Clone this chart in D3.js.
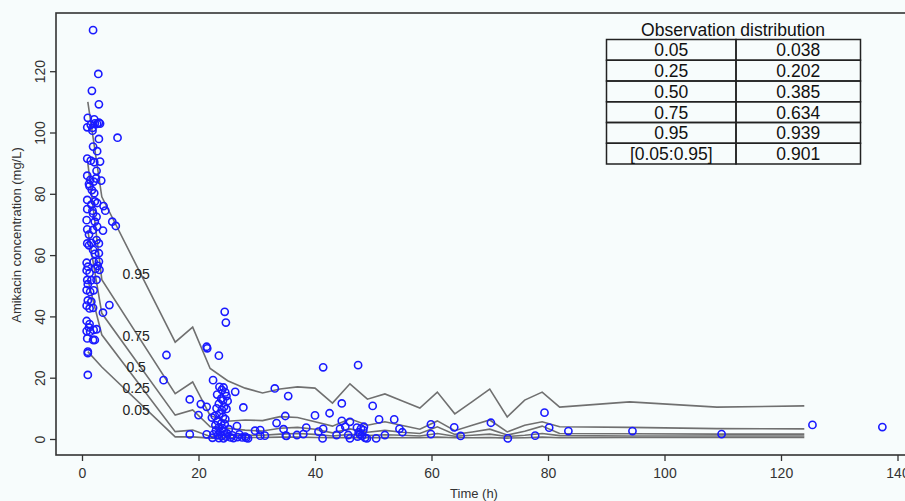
<!DOCTYPE html>
<html><head><meta charset="utf-8">
<script src="https://cdn.jsdelivr.net/npm/d3@7"></script>
<style>
html,body{margin:0;padding:0;background:#f7fcfc;}
svg{display:block;font-family:"Liberation Sans",Arial,sans-serif;}
</style></head>
<body><svg id="c" width="905" height="501"></svg>
<script>
// ---- data ----
const binTimes = [1, 3.4, 16, 19, 22, 25, 28, 31, 34, 37, 40, 43, 46, 49, 52, 55, 58, 61, 64, 67, 70, 73, 76, 79, 82, 94, 109, 124];
const p95 = [110, 79, 31.6, 36.5, 23, 19, 16.6, 15, 16.3, 17, 16.6, 11.7, 18, 13, 14.7, 12.4, 10.1, 15.3, 8.2, 12.2, 16.3, 7.2, 12.7, 15.3, 10.4, 12.1, 10.4, 10.8];
const p75 = [90, 52, 14.8, 18.6, 7.6, 5.8, 6.2, 6.0, 7.3, 7.0, 5.6, 4.2, 6.6, 4.5, 5.6, 4.4, 3.2, 5.9, 2.7, 4.5, 6.2, 2.3, 4.5, 5.6, 4.0, 3.8, 3.4, 3.3];
const p50 = [68, 41, 7.8, 9.5, 4.0, 3.5, 2.9, 2.6, 3.5, 3.8, 3.2, 2.0, 3.3, 2.2, 2.8, 2.2, 1.8, 4.0, 1.5, 2.3, 3.2, 1.3, 2.5, 4.2, 1.8, 1.7, 1.6, 1.6];
const p25 = [52, 34, 2.4, 2.9, 0.8, 1.2, 1.3, 1.2, 1.6, 1.8, 1.5, 1.0, 1.5, 1.1, 1.4, 1.2, 1.0, 1.8, 0.9, 1.2, 1.6, 0.8, 1.2, 1.8, 1.1, 1.0, 1.0, 1.0];
const p05 = [28.5, 23.5, 0.7, 0.7, 0.3, 0.4, 0.5, 0.5, 0.6, 0.6, 0.5, 0.4, 0.5, 0.4, 0.5, 0.4, 0.4, 0.6, 0.4, 0.4, 0.5, 0.3, 0.4, 0.6, 0.4, 0.5, 0.5, 0.5];
const percentileNames = ["0.95", "0.75", "0.5", "0.25", "0.05"];
const percentileLabelTime = 9.3;
const percentileLabelValue = [53.8, 33.6, 23.5, 16.6, 9.5];

const obsTime = [1.9,2.8,1.7,2.9,1.0,2.1,0.9,1.5,1.8,2.2,2.6,2.9,3.1,1.8,2.9,6.1,1.9,2.6,0.9,1.5,2.1,3.1,2.5,0.9,1.4,1.2,2.0,2.4,3.3,1.3,1.7,2.1,0.9,2.2,2.6,1.6,0.9,1.8,3.7,4.0,5.2,5.8,2.5,2.2,1.9,3.6,1.9,0.9,1.2,2.6,0.8,0.9,1.6,1.2,2.5,2.9,1.9,2.2,2.9,0.8,1.0,0.8,1.3,2.0,2.3,2.7,2.9,3.0,0.9,1.0,1.6,2.5,0.8,1.4,2.0,1.0,0.8,1.3,1.9,1.6,4.7,3.6,0.8,1.3,1.2,0.8,1.4,2.0,2.5,1.9,0.9,2.2,1.0,1.0,1.0,
14.5,14.0,18.5,20.4,21.4,20.0,18.5,21.4,21.4,21.5,23.5,24.5,24.7,22.5,26.3,27.7,26.6,22.3,
23.6,24.3,24.0,24.6,23.2,24.8,23.9,24.2,25.0,23.5,24.4,23.1,24.0,24.8,23.6,22.8,24.2,24.6,23.3,23.9,24.5,22.9,23.5,24.1,25.2,23.0,23.7,24.4,24.9,22.6,23.3,24.0,24.7,25.5,22.4,23.5,24.3,26.0,26.7,27.5,28.2,25.8,27.0,28.0,29.7,30.6,30.6,31.4,28.5,
33.1,35.4,34.9,33.4,34.6,35.0,35.1,36.9,38.0,38.5,40.0,41.4,42.5,41.4,40.6,41.3,43.7,44.3,44.6,44.6,45.2,45.7,46.0,46.0,47.4,47.2,47.7,48.3,48.6,47.5,47.9,48.1,47.3,48.4,49.9,48.9,50.5,51.0,52.0,53.6,54.5,55.0,59.9,59.9,63.9,65.0,70.2,73.1,77.8,79.4,80.2,83.5,94.5,109.8,125.4,137.4];
const obsConc = [133.4,119.1,113.6,109.2,104.8,104.3,101.7,102.5,101.5,103,102.8,103.2,102.9,100.6,97.9,98.3,95.4,93.9,91.5,90.8,90.3,90.5,87.5,85.9,84.5,83.2,84,85,84.3,82.5,81.2,80.2,78,77.5,77,76.5,75,74.5,76,74.5,70.9,69.5,72.5,70.9,73.6,68,68.2,68.4,66.7,69.3,71.4,63.8,64,63.2,64.9,63.8,61.7,60.4,60.6,57.5,56.2,55,54.2,57.8,55.5,56.5,57.9,55.2,51.9,50.5,51.8,51.9,48.6,48,48.5,45.2,43.5,42.6,42.8,44.8,43.7,41.2,38.5,37.5,36.4,35.2,35,35.6,35.8,32.3,32.8,32.3,28.5,28.0,20.9,
27.4,19.2,12.9,11.4,10.5,7.8,1.5,1.5,30.1,29.6,27.2,41.5,38,19.2,15.4,10.3,4.2,7,
17,16.8,16,15.2,14.5,14,13.2,12.6,12.4,11.5,10.5,10,9.5,9.8,8.2,7.5,7.2,6.5,5.8,5,4.8,4.5,3.8,3.5,3.2,2.8,2.2,2.5,1.8,1.5,1.2,1.0,0.8,0.5,0.4,0.3,0.2,0.3,0.6,0.5,0.4,1.2,1.5,0.8,2.7,2.9,1.1,1.1,0.2,
16.5,14,7.5,5.2,3.2,1.1,1.0,1.3,1.6,3.7,7.7,23.4,8.4,3.3,2.4,0.2,1.3,3.3,11.6,5.9,4.0,1.3,5.6,0.2,24.1,3.7,1.5,2.9,0.4,2.2,3.4,1.0,0.8,4.0,10.8,0.2,0.2,6.4,1.3,6.4,3.3,2.2,4.8,1.6,3.8,1.0,5.3,0.2,1.1,8.6,3.7,2.6,2.6,1.6,4.6,3.9];

const tableTitle = "Observation distribution";
const tableLeft = ["0.05", "0.25", "0.50", "0.75", "0.95", "[0.05:0.95]"];
const tableRight = ["0.038", "0.202", "0.385", "0.634", "0.939", "0.901"];
const xTicks = [0, 20, 40, 60, 80, 100, 120, 140];
const yTicks = [0, 20, 40, 60, 80, 100, 120];

// ---- layout ----
const svg = d3.select("#c");
const x = d3.scaleLinear().domain([0, 140]).range([82, 897.5]);
const y = d3.scaleLinear().domain([0, 120]).range([439, 71.2]);
const frame = {l: 56, t: 13, b: 455, r: 910};

svg.append("rect").attr("width", 905).attr("height", 501).attr("fill", "#f7fcfc");

// frame
svg.append("rect").attr("x", frame.l).attr("y", frame.t)
  .attr("width", frame.r - frame.l).attr("height", frame.b - frame.t)
  .attr("fill", "none").attr("stroke", "#333").attr("stroke-width", 1.6);

// axes
const xAxis = d3.axisBottom(x).tickValues(xTicks).tickSize(6).tickPadding(4).tickFormat(d3.format("d"));
const gx = svg.append("g").attr("transform", `translate(0,${frame.b})`).call(xAxis);
gx.select(".domain").remove();
gx.selectAll("line").attr("stroke", "#333").attr("stroke-width", 1.3);
gx.selectAll("text").attr("font-size", 14).attr("fill", "#333").attr("dy", "0.9em");

const yAxis = d3.axisLeft(y).tickValues(yTicks).tickSize(6).tickFormat(d3.format("d"));
const gy = svg.append("g").attr("transform", `translate(${frame.l},0)`).call(yAxis);
gy.select(".domain").remove();
gy.selectAll("line").attr("stroke", "#333").attr("stroke-width", 1.3);
gy.selectAll("text").attr("font-size", 14).attr("fill", "#333")
  .attr("text-anchor", "middle").attr("dy", null).attr("x", null)
  .attr("transform", "translate(-16,0) rotate(-90)").attr("dominant-baseline", "central");

svg.append("text").attr("x", 474).attr("y", 498).attr("text-anchor", "middle")
  .attr("font-size", 13).attr("fill", "#333").text("Time (h)");
svg.append("text").attr("transform", "translate(21,235) rotate(-90)").attr("text-anchor", "middle")
  .attr("font-size", 13).attr("fill", "#333").text("Amikacin concentration (mg/L)");

// percentile lines
const series = [p95, p75, p50, p25, p05];
const line = d3.line().x((d, i) => x(binTimes[i])).y(d => y(d));
const gl = svg.append("g");
series.forEach(s => {
  gl.append("path").attr("d", line(s)).attr("fill", "none")
    .attr("stroke", "#707070").attr("stroke-width", 1.6);
});
percentileNames.forEach((n, i) => {
  svg.append("text").attr("x", x(percentileLabelTime)).attr("y", y(percentileLabelValue[i]))
    .attr("text-anchor", "middle").attr("dominant-baseline", "central")
    .attr("font-size", 14).attr("fill", "#222").text(n);
});

// observations
svg.append("g").selectAll("circle").data(obsTime).join("circle")
  .attr("cx", d => x(d)).attr("cy", (d, i) => y(obsConc[i])).attr("r", 3.6)
  .attr("fill", "none").attr("stroke", "#1a1aff").attr("stroke-width", 1.6);

// table
const tx0 = 606.5, tx1 = 736, tx2 = 860.5, ty0 = 39.5, rowH = 20.75;
svg.append("text").attr("x", 733).attr("y", 36).attr("text-anchor", "middle")
  .attr("font-size", 17.5).attr("fill", "#111").text(tableTitle);
const gt = svg.append("g");
tableLeft.forEach((t, i) => {
  const yy = ty0 + i * rowH;
  gt.append("rect").attr("x", tx0).attr("y", yy).attr("width", tx1 - tx0).attr("height", rowH)
    .attr("fill", "none").attr("stroke", "#222").attr("stroke-width", 1.5);
  gt.append("rect").attr("x", tx1).attr("y", yy).attr("width", tx2 - tx1).attr("height", rowH)
    .attr("fill", "none").attr("stroke", "#222").attr("stroke-width", 1.5);
  gt.append("text").attr("x", (tx0 + tx1) / 2).attr("y", yy + rowH / 2 + 6.5).attr("text-anchor", "middle")
    .attr("font-size", 17.5).attr("fill", "#111").text(t);
  gt.append("text").attr("x", (tx1 + tx2) / 2).attr("y", yy + rowH / 2 + 6.5).attr("text-anchor", "middle")
    .attr("font-size", 17.5).attr("fill", "#111").text(tableRight[i]);
});
</script></body></html>
